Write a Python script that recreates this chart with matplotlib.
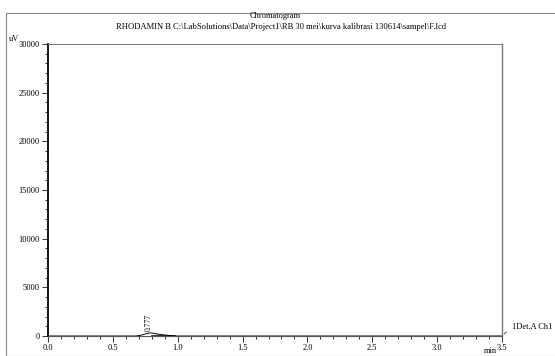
import matplotlib.pyplot as plt
from matplotlib.patches import Rectangle
from matplotlib.ticker import MultipleLocator

plt.rcParams['font.family'] = ['Liberation Serif', 'DejaVu Serif']

# retention time (min) and detector signal (uV)
waktu = [0.0, 0.68, 0.72, 0.76, 0.79, 0.83, 0.88, 0.93, 0.98, 3.5]
sinyal = [0, 0, 90, 250, 330, 230, 130, 60, 0, 0]
puncak_rt = 0.777
puncak_tinggi = 330

fig = plt.figure(figsize=(5.55, 3.56), dpi=100)
fig.patches.append(Rectangle((6 / 555, 0), 1, 1 - 13 / 356, transform=fig.transFigure,
                             fill=False, edgecolor='#888888', linewidth=0.8))

ax = fig.add_axes([48 / 555, 20 / 356, 454 / 555, 292 / 356])
ax.plot(waktu, sinyal, color='black', linewidth=0.7)
ax.plot([0.80, 0.98], [40, 40], color='black', linewidth=1.1)
ax.text(puncak_rt, puncak_tinggi + 150, '%.3f' % puncak_rt, rotation=90,
        ha='center', va='bottom', fontsize=5.5)

ax.set_xlim(0, 3.5)
ax.set_ylim(0, 30000)
ax.xaxis.set_major_locator(MultipleLocator(0.5))
ax.xaxis.set_minor_locator(MultipleLocator(0.1))
ax.yaxis.set_major_locator(MultipleLocator(5000))
ax.yaxis.set_minor_locator(MultipleLocator(1000))
ax.xaxis.set_major_formatter(plt.FormatStrFormatter('%.1f'))
ax.tick_params(which='major', length=4, width=0.7, labelsize=6, pad=2, color='#333333')
ax.tick_params(which='minor', length=2, width=0.7, color='#333333')

ax.spines['left'].set_linewidth(1.3)
ax.spines['bottom'].set_color('#555555')
ax.spines['bottom'].set_linewidth(0.8)
ax.spines['top'].set_color('#777777')
ax.spines['top'].set_linewidth(0.7)
ax.spines['right'].set_color('#777777')
ax.spines['right'].set_linewidth(1.0)

fig.text(275 / 555, 1 - 16 / 356, 'Chromatogram', ha='center', va='center', fontsize=6)
fig.text(281 / 555, 1 - 27 / 356,
         'RHODAMIN B C:\\LabSolutions\\Data\\Project1\\RB 30 mei\\kurva kalibrasi 130614\\sampel\\F.lcd',
         ha='center', va='center', fontsize=6.1)
fig.text(9 / 555, 1 - 39 / 356, 'uV', ha='left', va='center', fontsize=6)
fig.text(490 / 555, 1 - 351 / 356, 'min', ha='center', va='center', fontsize=6)

ax.annotate('', xy=(3.5, 0), xytext=(3.55, 600), annotation_clip=False,
            arrowprops=dict(arrowstyle='-', color='#555555', linewidth=0.7))
ax.text(3.58, 900, '1Det.A Ch1', ha='left', va='center', fontsize=6, clip_on=False)

fig.savefig('out.png', dpi=100)
